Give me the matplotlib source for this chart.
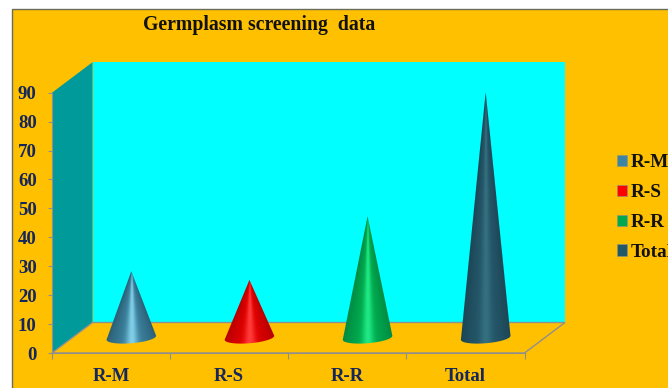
"""
Germplasm screening data: 3D-style cone chart.
"""

import matplotlib

matplotlib.use("Agg")
import matplotlib.pyplot as plt
import numpy as np
from matplotlib.colors import to_rgb
from matplotlib.patches import Polygon, Rectangle
from matplotlib.transforms import IdentityTransform

# --- Data ---
categories = ["R-M", "R-S", "R-R", "Total"]
values = [23, 20, 42, 85]
y_ticks = [0, 10, 20, 30, 40, 50, 60, 70, 80, 90]

# --- Style ---
edge_colors = ["#2b5f75", "#b80000", "#008a42", "#1c4656"]
mid_colors = ["#3d85a3", "#e60000", "#00b050", "#255a6c"]
high_colors = ["#80cfe8", "#ff3a3a", "#1fe884", "#35707f"]
legend_colors = ["#3c84a4", "#ff0000", "#00a850", "#215868"]
ORANGE = "#ffc000"
NAVY = "#14265c"
GREY = "#8f8f8f"
W, H = 668, 388
DEPTH = np.array([40.5, 30.5])  # pixels from front to back of the floor

plt.rcParams["font.family"] = ["Liberation Serif", "DejaVu Serif"]
plt.rcParams["font.weight"] = "bold"

fig = plt.figure(figsize=(W / 100, H / 100), dpi=100, facecolor="white")
fig.add_artist(
    Rectangle((12 / W, -0.01), 1, (H - 9) / H + 0.01, transform=fig.transFigure,
              facecolor=ORANGE, edgecolor="#6b6b5a", linewidth=1.0, zorder=-1)
)

ax = fig.add_axes([52 / W, 35 / H, 472.5 / W, 260.3 / H])
n_cat = len(categories)
ax.set_xlim(0, n_cat)
ax.set_ylim(0, 90)
ax.patch.set_visible(False)
fig.canvas.draw()


def project(x, y, d):
    """Data position on the front plane, pushed back by fraction d of the depth."""
    return ax.transData.transform((x, y)) + d * DEPTH


def add_poly(points, **kw):
    patch = Polygon(points, closed=True, transform=IdentityTransform(), clip_on=False, **kw)
    ax.add_patch(patch)
    return patch


add_poly([project(0, 0, 1), project(n_cat, 0, 1), project(n_cat, 90, 1), project(0, 90, 1)],
         facecolor="#00ffff", edgecolor="none", zorder=1)
add_poly([project(0, 0, 0), project(0, 0, 1), project(0, 90, 1), project(0, 90, 0)],
         facecolor="#009a9a", edgecolor="none", zorder=1)
add_poly([project(0, 0, 0), project(n_cat, 0, 0), project(n_cat, 0, 1), project(0, 0, 1)],
         facecolor=ORANGE, edgecolor=GREY, linewidth=1.0, zorder=2)

# --- Cones ---
theta = np.linspace(np.pi, 2 * np.pi, 60)
half_w = 0.21 * (ax.transData.transform((1, 0))[0] - ax.transData.transform((0, 0))[0])
for i, val in enumerate(values):
    base = project(i + 0.5, 0, 0.5)
    apex = project(i + 0.5, val, 0.5)
    xs = base[0] + half_w * np.cos(theta)
    ys = base[1] + 5.5 * np.sin(theta) + 2.0 * np.cos(theta)

    # shade along the cone's surface: u is -1..1 across it at each height
    x0, x1 = base[0] - half_w - 1, base[0] + half_w + 1
    y0, y1 = ys.min() - 1, apex[1] + 1
    gx, gy = np.meshgrid(np.linspace(x0, x1, 240), np.linspace(y1, y0, 600))
    frac = np.clip((apex[1] - gy) / (apex[1] - base[1]), 1e-3, None)
    u = np.clip((gx - base[0]) / (half_w * frac), -1, 1)
    glow = np.exp(-(u / 0.22) ** 2)[..., None]
    body = (1 - np.abs(u) ** 1.5)[..., None]
    c_edge, c_mid, c_high = (np.array(to_rgb(c[i])) for c in (edge_colors, mid_colors, high_colors))
    rgb = c_edge + (c_mid - c_edge) * body
    rgb = rgb + (c_high - rgb) * glow

    outline = add_poly(np.vstack([apex, np.column_stack([xs, ys])]), facecolor="none",
                       edgecolor="none", zorder=3)
    img = ax.imshow(rgb, extent=(x0, x1, y0, y1), transform=IdentityTransform(), aspect="auto",
                    interpolation="bilinear", zorder=3)
    img.set_clip_path(outline)

ax.set_xlim(0, n_cat)
ax.set_ylim(0, 90)

# --- Axes ---
for side in ["top", "right"]:
    ax.spines[side].set_visible(False)
for side in ["left", "bottom"]:
    ax.spines[side].set_color(GREY)
    ax.spines[side].set_zorder(4)
ax.set_yticks(y_ticks)
ax.set_xticks(range(n_cat + 1))
ax.set_xticklabels([])
ax.set_xticks(np.arange(n_cat) + 0.5, labels=categories, minor=True)
ax.tick_params(axis="y", colors=GREY, labelcolor=NAVY, labelsize=13.5, length=3, pad=8)
ax.tick_params(axis="x", which="major", colors=GREY, length=4)
ax.tick_params(axis="x", which="minor", length=0, labelcolor=NAVY, labelsize=13.5, pad=10.5)

fig.text(259 / W, 1 - 25 / H, "Germplasm screening  data", ha="center", va="center",
         fontsize=14.2, color="#111111")

handles = [Rectangle((0, 0), 1, 1, facecolor=c, edgecolor=GREY, linewidth=0.4) for c in legend_colors]
fig.legend(handles, categories, loc="center left", bbox_to_anchor=(600 / W, 1 - 207.5 / H),
           frameon=False, fontsize=13.8, handlelength=0.52, handleheight=0.52,
           handletextpad=0.2, labelspacing=0.67, labelcolor="#111111")

fig.savefig("out.png", dpi=100)
